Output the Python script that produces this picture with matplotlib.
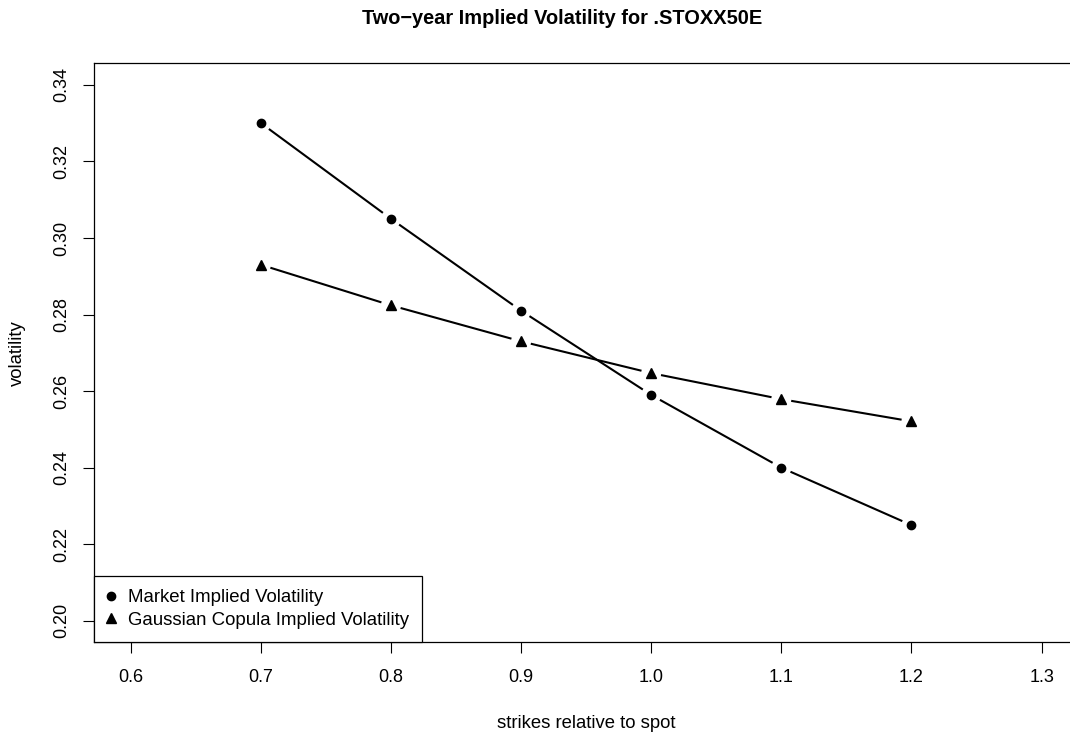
import numpy as np
import matplotlib
matplotlib.use("Agg")
import matplotlib.pyplot as plt
from matplotlib.lines import Line2D

plt.rcParams["font.family"] = ["Liberation Sans", "DejaVu Sans"]

strikes = [0.7, 0.8, 0.9, 1.0, 1.1, 1.2]
market_vol = [0.330, 0.305, 0.281, 0.259, 0.240, 0.225]
gaussian_vol = [0.293, 0.2824, 0.273, 0.2647, 0.2579, 0.2521]
x_ticks = [0.6, 0.7, 0.8, 0.9, 1.0, 1.1, 1.2, 1.3]
y_ticks = [0.20, 0.22, 0.24, 0.26, 0.28, 0.30, 0.32, 0.34]

fig = plt.figure(figsize=(10.70, 7.32), dpi=100)
ax = fig.add_axes([0.0881, 0.1225, 0.9194, 0.791])

ax.set_xlim(0.572, 1.328)
ax.set_ylim(0.1944, 0.3456)


def type_b(ax, xs, ys, marker, ms, gap=10):
    # R style type="b": points joined by lines that stop short of each point
    ax.plot(xs, ys, linestyle="none", marker=marker, markersize=ms,
            color="black", zorder=3)
    pts = ax.transData.transform(np.column_stack([xs, ys]))
    inv = ax.transData.inverted()
    for p0, p1 in zip(pts[:-1], pts[1:]):
        d = p1 - p0
        n = np.hypot(*d)
        if n <= 2 * gap:
            continue
        u = d / n
        a = inv.transform(p0 + u * gap)
        b = inv.transform(p1 - u * gap)
        ax.plot([a[0], b[0]], [a[1], b[1]], color="black", linewidth=1.5,
                solid_capstyle="butt", zorder=2)


type_b(ax, strikes, market_vol, "o", 6)
type_b(ax, strikes, gaussian_vol, "^", 7)

ax.set_xticks(x_ticks)
ax.set_xticklabels([f"{v:.1f}" for v in x_ticks])
ax.set_yticks(y_ticks)
ax.set_yticklabels([f"{v:.2f}" for v in y_ticks], rotation=90, va="center")

ax.tick_params(axis="both", length=8, width=0.8, labelsize=13, color="black")
ax.tick_params(axis="x", pad=11)
ax.tick_params(axis="y", pad=9)
for s in ax.spines.values():
    s.set_linewidth(0.9)
    s.set_color("black")

ax.set_xlabel("strikes relative to spot", fontsize=13.3, labelpad=21)
ax.set_ylabel("volatility", fontsize=13.3, labelpad=20)
fig.text(0.5257, 0.975, "Two\u2212year Implied Volatility for .STOXX50E",
         ha="center", va="center", fontsize=14.4, fontweight="bold")

handles = [
    Line2D([], [], linestyle="none", marker="o", markersize=6, color="black"),
    Line2D([], [], linestyle="none", marker="^", markersize=7, color="black"),
]
leg = ax.legend(handles, ["Market Implied Volatility",
                          "Gaussian Copula Implied Volatility"],
                loc="lower left", borderaxespad=0, fontsize=13.4,
                frameon=True, fancybox=False, framealpha=1,
                edgecolor="black", handlelength=0.4, handletextpad=0.69,
                labelspacing=0.3, borderpad=0.72)
leg.get_frame().set_linewidth(0.9)

fig.savefig("out.png", dpi=100)
